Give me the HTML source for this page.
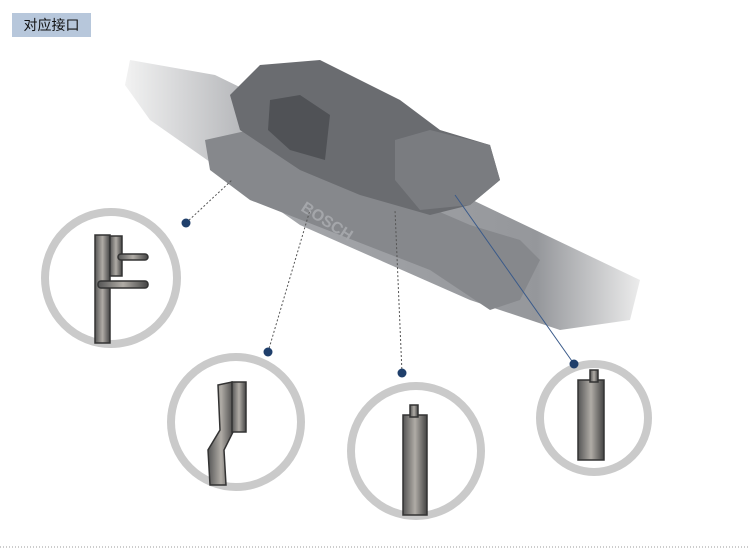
<!DOCTYPE html>
<html><head><meta charset="utf-8"><style>
body{margin:0;width:750px;height:559px;background:#fff;overflow:hidden;position:relative;font-family:"Liberation Sans","Noto Sans CJK SC",sans-serif}
.tag{position:absolute;left:12px;top:13px;width:79px;height:24px;background:#b7c7db;font-size:14px;line-height:24px;text-align:center;color:#111}
</style></head><body>
<div class="tag">对应接口</div>
<svg width="750" height="559" style="position:absolute;left:0;top:0">
<defs>
<linearGradient id="rail" x1="0" y1="0" x2="1" y2="0"><stop offset="0" stop-color="#f2f2f2"/><stop offset="0.3" stop-color="#a4a6aa"/><stop offset="0.8" stop-color="#95979b"/><stop offset="1" stop-color="#ececec"/></linearGradient>
<linearGradient id="metal" x1="0" y1="0" x2="1" y2="0"><stop offset="0" stop-color="#555"/><stop offset="0.5" stop-color="#b0aca6"/><stop offset="1" stop-color="#444"/></linearGradient>
</defs>
<polygon points="130,60 215,75 420,175 640,280 630,320 560,330 470,300 300,225 150,120 125,85" fill="url(#rail)"/>
<polygon points="205,140 250,130 470,225 520,240 540,260 520,300 490,310 430,270 250,200 210,170" fill="#86888c"/>
<polygon points="230,95 260,65 320,60 400,100 440,130 490,145 500,180 470,205 430,215 360,195 300,170 240,130" fill="#6a6c70"/>
<polygon points="395,140 430,130 490,145 500,180 470,205 420,210 395,180" fill="#7a7c80"/>
<polygon points="270,100 300,95 330,115 325,160 290,150 268,130" fill="#505256"/>
<text x="300" y="210" transform="rotate(33 300 210)" font-size="16" font-weight="bold" fill="#a4a6aa" font-family="Liberation Sans">BOSCH</text>
<g stroke="#555" stroke-width="1" stroke-dasharray="2,2" fill="none">
<line x1="186" y1="223" x2="232" y2="180"/><line x1="268" y1="352" x2="310" y2="210"/><line x1="402" y1="373" x2="395" y2="210"/>
</g>
<line x1="574" y1="364" x2="455" y2="195" stroke="#3a5a8a" stroke-width="1"/>
<g fill="#fff" stroke="#cacaca" stroke-width="8">
<circle cx="111" cy="278" r="66"/><circle cx="236" cy="422" r="65"/><circle cx="416" cy="451" r="65"/><circle cx="594" cy="418" r="54"/>
</g>
<g fill="#1f3f6b"><circle cx="186" cy="223" r="4.5"/><circle cx="268" cy="352" r="4.5"/><circle cx="402" cy="373" r="4.5"/><circle cx="574" cy="364" r="4.5"/></g>
<g fill="url(#metal)" stroke="#333" stroke-width="1.5">
<rect x="95" y="235" width="15" height="108"/><rect x="110" y="236" width="12" height="40"/><rect x="118" y="254" width="30" height="6" rx="3"/><rect x="98" y="281" width="50" height="7" rx="3"/>
<polygon points="218,385 232,382 234,430 224,450 226,485 210,485 208,450 220,430"/><rect x="232" y="382" width="14" height="50"/>
<rect x="403" y="415" width="24" height="100"/><rect x="410" y="405" width="8" height="12"/>
<rect x="578" y="380" width="26" height="80"/><rect x="590" y="370" width="8" height="12"/>
</g>
<line x1="0" y1="547" x2="750" y2="547" stroke="#999" stroke-dasharray="1,2"/>
</svg>
</body></html>
